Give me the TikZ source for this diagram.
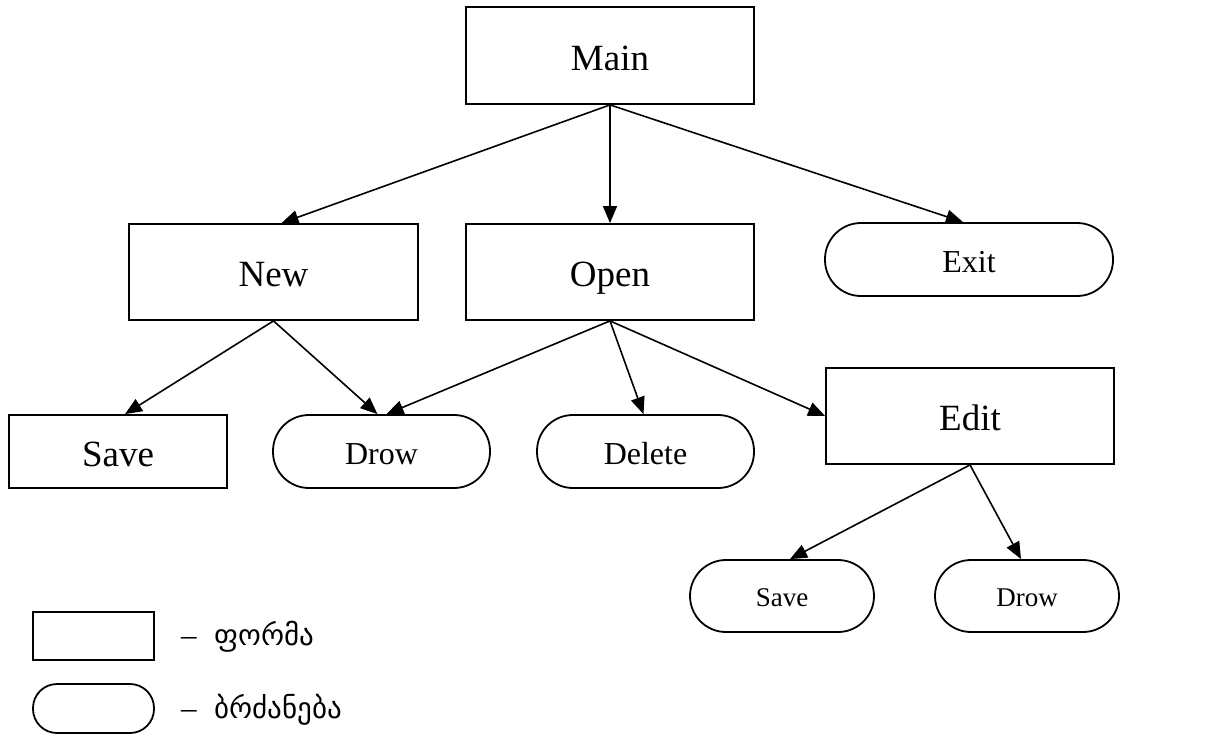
\documentclass[tikz,border=0pt]{standalone}
\usepackage{fontspec}
\setmainfont{Liberation Serif}
\newfontfamily\geofont[Script=Georgian]{DejaVu Sans}
\usetikzlibrary{arrows.meta}
\tikzset{
  base/.style={draw, line width=1.8pt, inner sep=0pt, align=center},
  formbox/.style={base, rectangle},
  cmdbox/.style={base, rectangle, rounded corners=36pt},
  big/.style={font=\fontsize{37pt}{40pt}\selectfont, text height=29pt, text depth=0pt},
  mid/.style={font=\fontsize{32pt}{36pt}\selectfont, text height=25pt, text depth=0pt},
  small/.style={font=\fontsize{27pt}{30pt}\selectfont, text height=21pt, text depth=0pt},
  conn/.style={line width=1.6pt, -{Triangle[length=17pt,width=14pt]}},
}
\begin{document}
\begin{tikzpicture}[x=1pt,y=-1pt]
\useasboundingbox (0,0) rectangle (1213,734);
\node[formbox,big,minimum width=288pt,minimum height=97pt] (main) at (610,55.5) {Main};
\node[formbox,big,minimum width=289pt,minimum height=96pt] (new) at (273.5,272) {New};
\node[formbox,big,minimum width=288pt,minimum height=96pt] (open) at (610,272) {Open};
\node[cmdbox,mid,minimum width=288pt,minimum height=73pt] (exit) at (969,259.5) {Exit};
\node[formbox,big,minimum width=218pt,minimum height=73pt] (save) at (118,451.5) {Save};
\node[cmdbox,mid,minimum width=217pt,minimum height=73pt] (drow) at (381.5,451.5) {Drow};
\node[cmdbox,mid,minimum width=217pt,minimum height=73pt] (delete) at (645.5,451.5) {Delete};
\node[formbox,big,minimum width=288pt,minimum height=96pt] (edit) at (970,416) {Edit};
\node[cmdbox,small,minimum width=184pt,minimum height=72pt] (save2) at (782,596) {Save};
\node[cmdbox,small,minimum width=184pt,minimum height=72pt] (drow2) at (1027,596) {Drow};
% legend
\node[formbox,minimum width=121pt,minimum height=48pt] (legform) at (93.5,636) {};
\node[cmdbox,rounded corners=24pt,minimum width=121pt,minimum height=49pt] (legcmd) at (93.5,708.5) {};
\node[anchor=west,inner sep=0pt,font=\fontsize{31pt}{34pt}\selectfont] (legformtxt) at (181,637) {–\hspace{18pt}{\geofont\fontsize{29pt}{32pt}\selectfont ფორმა}};
\node[anchor=west,inner sep=0pt,font=\fontsize{31pt}{34pt}\selectfont] (legcmdtxt) at (181,710) {–\hspace{18pt}{\geofont\fontsize{29pt}{32pt}\selectfont ბრძანება}};
% connectors
\draw[conn] (main.south) -- ([xshift=8pt]new.north);
\draw[conn] (main.south) -- (open.north);
\draw[conn] (main.south) -- ([xshift=-6pt]exit.north);
\draw[conn] (new.south) -- ([xshift=7pt]save.north);
\draw[conn] (new.south) -- ([xshift=-4pt]drow.north);
\draw[conn] (open.south) -- ([xshift=5pt]drow.north);
\draw[conn] (open.south) -- ([xshift=-2pt]delete.north);
\draw[conn] (open.south) -- (edit.west);
\draw[conn] (edit.south) -- ([xshift=8pt]save2.north);
\draw[conn] (edit.south) -- ([xshift=-6pt]drow2.north);
\end{tikzpicture}
\end{document}
